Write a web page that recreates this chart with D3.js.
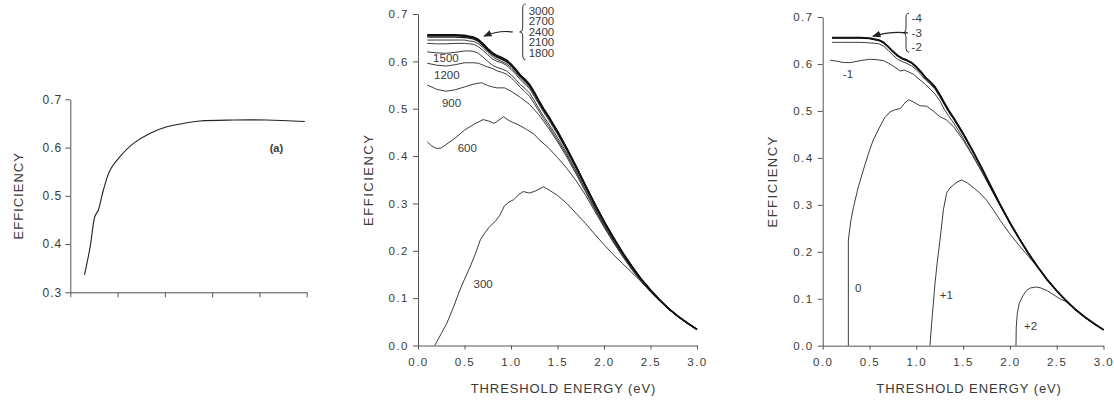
<!DOCTYPE html>
<html><head><meta charset="utf-8">
<script src="https://cdn.jsdelivr.net/npm/d3@7"></script>
<style>
body{margin:0;background:#fff;}
text{font-family:"Liberation Sans", Arial, sans-serif; fill:#3a3a3a;}
</style></head><body>
<svg id="chart" width="1114" height="402"></svg>
<script>
// ---------------- DATA ----------------
// panel (a): efficiency vs (unlabelled) x
const leftX = [0.30,0.42,0.52,0.59,0.70,0.84,1.05,1.33,1.68,2.04,2.39,2.74,3.45,4.15,4.96];
const leftY = [0.336,0.394,0.457,0.470,0.512,0.553,0.581,0.608,0.629,0.643,0.650,0.655,0.657,0.657,0.654];
const leftTicksX = [0,1,2,3,4,5];
const leftTicksY = [0.3,0.4,0.5,0.6,0.7];

// panel (b): threshold-energy grid shared by the upper family
const energyGrid = [0.1,0.2,0.3,0.4,0.5,0.55,0.6,0.65,0.7,0.75,0.8,0.85,0.9,0.95,1.0,1.05,1.1,1.15,1.2,1.25,1.3,1.35,1.4,1.5,1.6,1.7,1.8,1.9,2.0,2.1,2.2,2.3,2.4,2.5,2.6,2.7,2.8,2.9,3.0];
const eff3000 = [.656,.656,.656,.656,.655,.653,.651,.646,.637,.627,.618,.612,.608,.603,.594,.583,.571,.562,.551,.535,.517,.500,.485,.452,.416,.378,.338,.299,.262,.228,.196,.167,.140,.117,.096,.077,.061,.047,.034];
const eff2700 = [.654,.654,.654,.654,.653,.651,.649,.644,.635,.625,.616,.610,.606,.601,.593,.582,.570,.561,.550,.534,.516,.499,.484,.452,.416,.378,.338,.299,.262,.228,.196,.167,.140,.117,.096,.077,.061,.047,.034];
const eff2400 = [.651,.651,.651,.651,.650,.649,.647,.642,.633,.623,.614,.608,.604,.599,.591,.580,.568,.559,.548,.532,.515,.498,.483,.451,.415,.377,.338,.299,.262,.228,.196,.167,.140,.117,.096,.077,.061,.047,.034];
const eff2100 = [.645,.645,.645,.645,.645,.643,.642,.637,.629,.619,.610,.604,.600,.595,.587,.576,.565,.556,.545,.530,.512,.495,.481,.448,.413,.376,.336,.297,.260,.227,.195,.167,.140,.117,.096,.077,.061,.047,.034];
const eff1800 = [.638,.637,.637,.638,.638,.637,.636,.631,.623,.614,.605,.600,.597,.592,.583,.573,.561,.552,.542,.526,.509,.493,.478,.446,.411,.374,.335,.296,.259,.226,.194,.166,.140,.117,.096,.077,.061,.047,.034];
const eff1500 = [.620,.618,.617,.619,.622,.622,.621,.617,.609,.600,.592,.587,.584,.580,.572,.562,.551,.543,.533,.517,.500,.484,.470,.439,.406,.369,.330,.292,.256,.223,.192,.164,.138,.116,.095,.077,.061,.047,.034];
const eff1200 = [.596,.592,.590,.593,.597,.597,.597,.596,.592,.588,.585,.580,.577,.573,.566,.556,.545,.536,.526,.511,.495,.479,.465,.434,.402,.366,.328,.290,.254,.221,.190,.163,.137,.115,.095,.077,.061,.047,.034];
const energy900 = [0.1,0.2,0.3,0.4,0.5,0.6,0.68,0.75,0.8,0.85,0.93,1.0,1.1,1.2,1.3,1.4,1.5,1.6,1.7,1.8,1.9,2.0,2.1,2.2,2.3,2.4,2.5,2.6,2.7,2.8,2.9,3.0];
const eff900 = [.550,.541,.537,.540,.546,.552,.555,.549,.546,.544,.544,.537,.524,.509,.487,.460,.430,.398,.362,.325,.288,.252,.219,.189,.161,.136,.114,.094,.076,.060,.046,.034];
const energy600 = [0.1,0.15,0.2,0.25,0.3,0.4,0.5,0.6,0.7,0.76,0.82,0.87,0.92,0.97,1.02,1.08,1.17,1.25,1.3,1.4,1.5,1.6,1.7,1.8,1.9,2.0,2.1,2.2,2.3,2.4,2.5,2.6,2.7,2.8,2.9,3.0];
const eff600 = [.430,.421,.416,.417,.424,.438,.455,.467,.477,.474,.469,.476,.483,.476,.471,.466,.456,.446,.435,.418,.397,.374,.348,.318,.284,.250,.218,.188,.160,.135,.113,.094,.076,.060,.046,.034];
const energy300 = [0.18,0.25,0.31,0.38,0.45,0.5,0.56,0.62,0.67,0.72,0.77,0.83,0.88,0.93,0.98,1.03,1.08,1.13,1.2,1.26,1.35,1.42,1.5,1.6,1.7,1.8,1.9,2.0,2.1,2.2,2.3,2.4,2.5,2.6,2.7,2.8,2.9,3.0];
const eff300 = [0,.025,.047,.080,.117,.140,.166,.195,.223,.238,.251,.262,.275,.295,.303,.308,.318,.325,.322,.326,.335,.327,.317,.300,.279,.258,.235,.213,.192,.173,.154,.135,.114,.094,.076,.060,.046,.034];
const bigLabels = ["3000","2700","2400","2100","1800"];

// panel (c)
const effM4 = [.656,.656,.656,.656,.655,.653,.651,.646,.637,.627,.618,.612,.608,.603,.594,.583,.571,.562,.551,.535,.517,.500,.485,.452,.416,.378,.338,.299,.262,.228,.196,.167,.140,.117,.096,.077,.061,.047,.034];
const effM3 = [.655,.655,.655,.655,.654,.652,.650,.645,.636,.626,.617,.611,.607,.602,.593,.582,.570,.561,.550,.534,.516,.499,.484,.451,.416,.378,.338,.299,.262,.228,.196,.167,.140,.117,.096,.077,.061,.047,.034];
const effM2 = [.646,.646,.646,.646,.645,.644,.643,.638,.629,.619,.610,.605,.601,.596,.588,.577,.566,.557,.546,.530,.513,.496,.482,.449,.414,.377,.337,.298,.262,.228,.196,.167,.140,.117,.096,.077,.061,.047,.034];
const energyM1 = [0.08,0.15,0.22,0.3,0.4,0.5,0.58,0.65,0.7,0.75,0.8,0.83,0.87,0.92,0.97,1.04,1.1,1.15,1.2,1.25,1.3,1.35,1.4,1.5,1.6,1.7,1.8,1.9,2.0,2.1,2.2,2.3,2.4,2.5,2.6,2.7,2.8,2.9,3.0];
const effM1 = [.608,.606,.603,.603,.607,.610,.609,.607,.602,.596,.589,.585,.587,.583,.578,.566,.556,.546,.536,.522,.503,.488,.474,.442,.407,.372,.334,.297,.261,.228,.196,.167,.140,.117,.096,.077,.061,.047,.034];
const energy0 = [0.274,0.274,0.30,0.33,0.38,0.434,0.49,0.54,0.61,0.66,0.72,0.78,0.83,0.87,0.915,0.97,1.04,1.11,1.18,1.25,1.32,1.40,1.5,1.6,1.7,1.8,1.9,2.0,2.1,2.2,2.3,2.4,2.5,2.6,2.7,2.8,2.9,3.0];
const eff0 = [0,.225,.265,.296,.338,.374,.410,.438,.466,.485,.498,.503,.505,.515,.524,.519,.511,.510,.500,.488,.481,.466,.438,.405,.370,.333,.296,.260,.227,.195,.167,.140,.117,.096,.077,.061,.047,.034];
const energyP1 = [1.146,1.165,1.20,1.225,1.253,1.29,1.324,1.36,1.395,1.44,1.485,1.55,1.62,1.68,1.75,1.82,1.9,2.0,2.1,2.2,2.3,2.4,2.5,2.6,2.7,2.8,2.9,3.0];
const effP1 = [0,.050,.133,.180,.225,.290,.325,.336,.342,.349,.353,.346,.335,.325,.310,.290,.266,.238,.213,.190,.166,.140,.117,.096,.077,.061,.047,.034];
const energyP2 = [2.065,2.068,2.08,2.10,2.14,2.18,2.22,2.28,2.33,2.40,2.47,2.54,2.6,2.7,2.8,2.9,3.0];
const effP2 = [0,.040,.070,.090,.107,.118,.123,.125,.123,.117,.108,.099,.094,.076,.060,.046,.034];
const smallLabels = ["-4","-3","-2"];

const energyTicks = [0,0.5,1.0,1.5,2.0,2.5,3.0];
const effTicks = [0,0.1,0.2,0.3,0.4,0.5,0.6,0.7];

// ---------------- DRAW ----------------
const svg = d3.select("#chart");
const AX = "#555";
const zip = (xs, ys) => xs.map((x, i) => [x, ys[i]]);

function styleAxis(g, fs, ls) {
  g.select(".domain").attr("stroke", AX).attr("stroke-width", 1);
  g.selectAll(".tick line").attr("stroke", AX).attr("stroke-width", 1);
  g.selectAll(".tick text").attr("fill", "#3a3a3a").style("font-size", fs + "px")
    .style("letter-spacing", ls + "px").style("font-family", '"Liberation Sans", Arial, sans-serif');
}

// defs: arrowhead
svg.append("defs").append("marker").attr("id", "ah")
  .attr("viewBox", "0 0 10 10").attr("refX", 9).attr("refY", 5)
  .attr("markerWidth", 7).attr("markerHeight", 7).attr("orient", "auto")
  .append("path").attr("d", "M0,1 L10,5 L0,9 Z").attr("fill", "#222");

function brace(g, bx, top, bot) {
  const mid = (top + bot) / 2;
  const p = `M${bx+3},${top} Q${bx},${top} ${bx},${top+4} L${bx},${mid-4} Q${bx},${mid} ${bx-3},${mid} Q${bx},${mid} ${bx},${mid+4} L${bx},${bot-4} Q${bx},${bot} ${bx+3},${bot}`;
  g.append("path").attr("d", p).attr("fill", "none").attr("stroke", "#333").attr("stroke-width", 1);
}
function arrow(g, sx, sy, ex, ey) {
  g.append("path").attr("d", `M${sx},${sy} Q${(sx+ex)/2},${sy-2} ${ex},${ey}`)
    .attr("fill", "none").attr("stroke", "#222").attr("stroke-width", 1.2).attr("marker-end", "url(#ah)");
}

// ----- Panel (a)
{
  const x = d3.scaleLinear().domain([0, 5]).range([70.3, 306.7]);
  const y = d3.scaleLinear().domain([0.3, 0.7]).range([292.3, 99.3]);
  const g = svg.append("g");
  g.append("g").attr("transform", `translate(0,${y(0.3)})`)
    .call(d3.axisBottom(x).tickValues(leftTicksX).tickFormat("").tickSize(5).tickSizeOuter(0))
    .call(a => styleAxis(a, 11, 1));
  g.append("g").attr("transform", `translate(${x(0)},0)`)
    .call(d3.axisLeft(y).tickValues(leftTicksY).tickFormat(d3.format(".1f")).tickSize(5).tickPadding(3).tickSizeOuter(0))
    .call(a => styleAxis(a, 12, 1));
  const line = d3.line().x(d => x(d[0])).y(d => y(d[1])).curve(d3.curveCatmullRom);
  g.append("path").datum(zip(leftX, leftY)).attr("d", line)
    .attr("fill", "none").attr("stroke", "#222").attr("stroke-width", 1.1);
  g.append("text").attr("x", x(4.36)).attr("y", y(0.6)).attr("text-anchor", "middle")
    .attr("dominant-baseline", "central").style("font-size", "11px").style("font-weight", "bold").text("(a)");
  g.append("text").attr("transform", `translate(18,${(y(0.3)+y(0.7))/2}) rotate(-90)`)
    .attr("text-anchor", "middle").attr("dominant-baseline", "central")
    .style("font-size", "13px").style("letter-spacing", "1px").text("EFFICIENCY");
}

function energyPanel(x, y, series, labels, xTitleY) {
  const g = svg.append("g");
  g.append("g").attr("transform", `translate(0,${y(0)})`)
    .call(d3.axisBottom(x).tickValues(energyTicks).tickFormat(d3.format(".1f")).tickSize(4).tickPadding(8).tickSizeOuter(0))
    .call(a => styleAxis(a, 11.5, 1.5));
  g.append("g").attr("transform", `translate(${x(0)},0)`)
    .call(d3.axisLeft(y).tickValues(effTicks).tickFormat(d3.format(".1f")).tickSize(5).tickPadding(4).tickSizeOuter(0))
    .call(a => styleAxis(a, 11.5, 1.5));
  const line = d3.line().x(d => x(d[0])).y(d => y(d[1]));
  series.forEach(s => {
    g.append("path").datum(zip(s.x, s.y)).attr("d", line)
      .attr("fill", "none").attr("stroke", s.c).attr("stroke-width", s.w)
      .attr("stroke-linejoin", "round");
  });
  labels.forEach(l => {
    g.append("text").attr("x", x(l.x)).attr("y", y(l.y)).attr("text-anchor", l.a || "middle")
      .attr("dominant-baseline", "central").style("font-size", "11.5px").text(l.t);
  });
  g.append("text").attr("transform", `translate(${x(0) - 50},${(y(0)+y(0.7))/2}) rotate(-90)`)
    .attr("text-anchor", "middle").attr("dominant-baseline", "central")
    .style("font-size", "13px").style("letter-spacing", "1.5px").text("EFFICIENCY");
  g.append("text").attr("x", (x(0) + x(3)) / 2 + 6).attr("y", xTitleY)
    .attr("text-anchor", "middle").attr("dominant-baseline", "central")
    .style("font-size", "13px").style("letter-spacing", "0.9px").text("THRESHOLD ENERGY (eV)");
  return g;
}

// ----- Panel (b)
{
  const x = d3.scaleLinear().domain([0, 3]).range([418, 697]);
  const y = d3.scaleLinear().domain([0, 0.7]).range([345.5, 14]);
  const thin = "#3c3c3c";
  const series = [
    {x: energy300, y: eff300, c: thin, w: 1},
    {x: energy600, y: eff600, c: thin, w: 1},
    {x: energy900, y: eff900, c: thin, w: 1},
    {x: energyGrid, y: eff1200, c: thin, w: 1},
    {x: energyGrid, y: eff1500, c: thin, w: 1},
    {x: energyGrid, y: eff1800, c: thin, w: 1},
    {x: energyGrid, y: eff2100, c: thin, w: 1},
    {x: energyGrid, y: eff2400, c: "#222", w: 1.2},
    {x: energyGrid, y: eff2700, c: "#111", w: 1.4},
    {x: energyGrid, y: eff3000, c: "#111", w: 1.8}
  ];
  const labels = [
    {t: "1500", x: 0.30, y: 0.607}, {t: "1200", x: 0.31, y: 0.571},
    {t: "900", x: 0.36, y: 0.512}, {t: "600", x: 0.53, y: 0.417}, {t: "300", x: 0.70, y: 0.130}
  ];
  const bigY = [0.706, 0.685, 0.662, 0.640, 0.617];
  bigLabels.forEach((t, i) => labels.push({t, x: 1.19, y: bigY[i], a: "start"}));
  const g = energyPanel(x, y, series, labels, 388);
  brace(g, x(1.126), y(0.721), y(0.603));
  arrow(g, x(1.02), y(0.662), x(0.71), y(0.653));
}

// ----- Panel (c)
{
  const x = d3.scaleLinear().domain([0, 3]).range([822.7, 1103.5]);
  const y = d3.scaleLinear().domain([0, 0.7]).range([345.7, 17]);
  const thin = "#3c3c3c";
  const series = [
    {x: energyP2, y: effP2, c: thin, w: 1},
    {x: energyP1, y: effP1, c: thin, w: 1},
    {x: energy0, y: eff0, c: thin, w: 1},
    {x: energyM1, y: effM1, c: thin, w: 1},
    {x: energyGrid, y: effM2, c: thin, w: 1},
    {x: energyGrid, y: effM3, c: "#111", w: 1.4},
    {x: energyGrid, y: effM4, c: "#111", w: 1.8}
  ];
  const labels = [
    {t: "-1", x: 0.27, y: 0.579}, {t: "0", x: 0.38, y: 0.122},
    {t: "+1", x: 1.32, y: 0.108}, {t: "+2", x: 2.22, y: 0.042}
  ];
  const smY = [0.698, 0.666, 0.636];
  smallLabels.forEach((t, i) => labels.push({t, x: 0.95, y: smY[i], a: "start"}));
  const g = energyPanel(x, y, series, labels, 388);
  brace(g, x(0.89), y(0.708), y(0.625));
  arrow(g, x(0.91), y(0.666), x(0.536), y(0.659));
}
</script>
</body></html>
